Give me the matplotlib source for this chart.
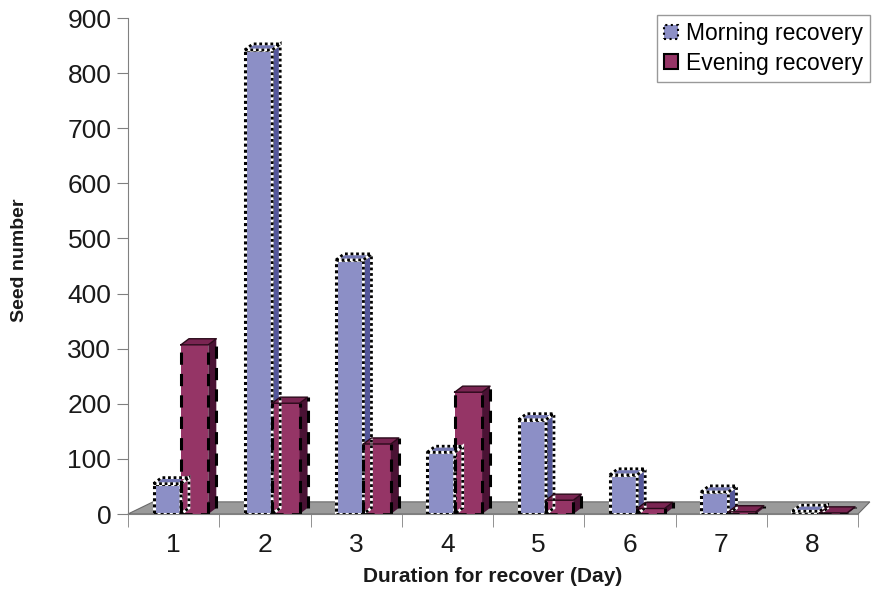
import matplotlib.pyplot as plt
import numpy as np
from matplotlib.patches import Polygon, Patch

plt.rcParams["font.family"] = ["Liberation Sans", "DejaVu Sans"]

days = [1, 2, 3, 4, 5, 6, 7, 8]
morning = [55, 842, 461, 112, 171, 71, 40, 5]
evening = [307, 201, 127, 221, 25, 10, 4, 2]
series_names = ["Morning recovery", "Evening recovery"]

MORN_FACE = "#8c8fc6"
MORN_SIDE = "#54579a"
MORN_TOP = "#7478b4"
EVE_FACE = "#953566"
EVE_SIDE = "#4a1234"
EVE_TOP = "#7a2552"

# pseudo 3d depth, in data units
DX = 0.088
DY = 11
BAR_W = 0.30

fig = plt.figure(figsize=(8.72, 5.94), dpi=100)
ax = fig.add_axes([128 / 872, 80 / 594, 744 / 872, 496 / 594])
ax.set_xlim(0.5, 0.5 + 744 / 91.25)
ax.set_ylim(0, 900)

# floor
floor = Polygon([(0.5, 0), (8.5, 0), (8.63, 22), (0.774, 22)],
                closed=True, facecolor="#9a9a9a", edgecolor="#6a6a6a",
                linewidth=0.8, zorder=1, clip_on=False)
ax.add_patch(floor)


def draw_bar(left, value, face, side, top, dotted):
    right = left + BAR_W
    if dotted:
        ax.bar(left, value, BAR_W, align="edge", color=face,
               edgecolor="white", linewidth=2.2, zorder=3)
        ax.bar(left, value, BAR_W, align="edge", color="none",
               edgecolor="black", linewidth=2.2, linestyle=(0, (1, 1)), zorder=4)
    else:
        ax.bar(left, value, BAR_W, align="edge", color=face,
               edgecolor="none", zorder=3)
    side_pts = [(right, 0), (right, value), (right + DX, value + DY), (right + DX, DY)]
    top_pts = [(left, value), (right, value), (right + DX, value + DY), (left + DX, value + DY)]
    ax.add_patch(Polygon(side_pts, closed=True, facecolor=side, edgecolor="none", zorder=3))
    ax.add_patch(Polygon(top_pts, closed=True, facecolor=top, edgecolor="none", zorder=3))
    if dotted:
        for pts in (side_pts, top_pts):
            ax.add_patch(Polygon(pts, closed=True, facecolor="none", edgecolor="white",
                                 linewidth=2.0, zorder=4))
            ax.add_patch(Polygon(pts, closed=True, facecolor="none", edgecolor="black",
                                 linewidth=2.0, linestyle=(0, (1, 1)), zorder=4))
    else:
        dash = (0, (4, 3))
        ax.plot([left, left], [0, value], color="black", lw=2.2, ls=dash, zorder=4)
        ax.plot([right, right], [0, value], color="black", lw=2.2, ls=dash, zorder=4)
        ax.plot([right + DX, right + DX], [DY, value + DY], color="black", lw=2.2,
                ls=dash, zorder=4)
        ax.plot([left, right, right + DX, left + DX, left],
                [value, value, value + DY, value + DY, value],
                color="#2a0a1a", lw=1.0, zorder=4)
        ax.plot([left, right], [0, 0], color="black", lw=2.0, ls=dash, zorder=4)


for d, m, e in zip(days, morning, evening):
    draw_bar(d - 0.22, m, MORN_FACE, MORN_SIDE, MORN_TOP, True)
    draw_bar(d + 0.08, e, EVE_FACE, EVE_SIDE, EVE_TOP, False)

for s in ["top", "right"]:
    ax.spines[s].set_visible(False)
ax.spines["left"].set_color("#808080")
ax.spines["bottom"].set_color("#808080")
ax.spines["bottom"].set_bounds(0.5, 8.5)
ax.spines["left"].set_zorder(5)
ax.spines["bottom"].set_zorder(5)

ax.set_yticks(np.arange(0, 901, 100))
ax.tick_params(axis="y", length=8, color="#808080", labelsize=19,
               labelcolor="#1a1a1a", pad=4)
ax.set_xticks(days)
ax.set_xticklabels([str(d) for d in days])
ax.set_xticks(np.arange(0.5, 8.6, 1), minor=True)
ax.tick_params(axis="x", which="major", length=0, labelsize=19,
               labelcolor="#1a1a1a", pad=14)
ax.tick_params(axis="x", which="minor", length=9, color="#808080")

fig.text(493 / 872, 1 - 577 / 594, "Duration for recover (Day)", ha="center",
         va="center", fontsize=15, fontweight="bold", color="#1a1a1a")
fig.text(20 / 872, 1 - 260 / 594, "Seed number", ha="center", va="center",
         rotation=90, fontsize=14, fontweight="bold", color="#1a1a1a")

handles = [Patch(facecolor=MORN_FACE, edgecolor="black", linestyle=":", linewidth=1.5),
           Patch(facecolor=EVE_FACE, edgecolor="black", linewidth=1.5)]
leg = fig.legend(handles, series_names, loc="upper right",
                 bbox_to_anchor=(870 / 872, 1 - 15 / 594), fontsize=16.5,
                 frameon=True, fancybox=False, handlelength=0.6, handleheight=0.6,
                 handletextpad=0.35, borderpad=0.3, labelspacing=0.3,
                 borderaxespad=0)
leg.get_frame().set_edgecolor("#808080")
leg.get_frame().set_linewidth(1.0)

fig.savefig("out.png", dpi=100)
